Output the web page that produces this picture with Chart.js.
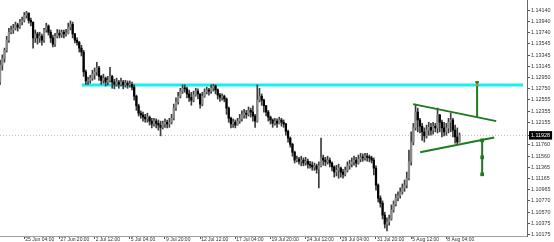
<!DOCTYPE html>
<html>
<head>
<meta charset="utf-8">
<script src="https://cdn.jsdelivr.net/npm/chart.js@4.4.1/dist/chart.umd.min.js"></script>
<style>
  html, body { margin: 0; padding: 0; background: #fff; }
  #wrap { width: 554px; height: 242px; }
  canvas { display: block; }
</style>
</head>
<body>
<div id="wrap"><canvas id="myChart" width="554" height="242"></canvas></div>
<script>
// H4 bars, bar 0 sits on the left edge
const firstOpen = 1.1287;
const closes = [
  1.1317, 1.1329, 1.1343, 1.1361, 1.1375, 1.1379, 1.1382, 1.1388, 1.1384, 1.1393,
  1.1396, 1.1405, 1.1409, 1.1396, 1.1393, 1.1365, 1.1372, 1.1365, 1.1368, 1.1361,
  1.1379, 1.1386, 1.1375, 1.1365, 1.1354, 1.1368, 1.1373, 1.1370, 1.1375, 1.1372,
  1.1373, 1.1384, 1.1389, 1.1372, 1.1361, 1.1357, 1.1347, 1.1340, 1.1305, 1.1289,
  1.1290, 1.1294, 1.1301, 1.1305, 1.1312, 1.1297, 1.1290, 1.1294, 1.1287, 1.1290,
  1.1297, 1.1287, 1.1283, 1.1287, 1.1283, 1.1287, 1.1282, 1.1285, 1.1282, 1.1283,
  1.1278, 1.1262, 1.1245, 1.1232, 1.1229, 1.1225, 1.1222, 1.1225, 1.1218, 1.1213,
  1.1218, 1.1214, 1.1211, 1.1207, 1.1213, 1.1216, 1.1213, 1.1216, 1.1223, 1.1241,
  1.1252, 1.1262, 1.1271, 1.1276, 1.1275, 1.1266, 1.1260, 1.1255, 1.1264, 1.1271,
  1.1266, 1.1248, 1.1262, 1.1269, 1.1273, 1.1271, 1.1276, 1.1280, 1.1273, 1.1264,
  1.1260, 1.1262, 1.1257, 1.1241, 1.1223, 1.1213, 1.1216, 1.1211, 1.1218, 1.1222,
  1.1229, 1.1232, 1.1230, 1.1237, 1.1234, 1.1227, 1.1218, 1.1255, 1.1262, 1.1255,
  1.1245, 1.1234, 1.1225, 1.1220, 1.1214, 1.1218, 1.1214, 1.1220, 1.1216, 1.1213,
  1.1200, 1.1188, 1.1177, 1.1163, 1.1149, 1.1151, 1.1147, 1.1149, 1.1144, 1.1147,
  1.1142, 1.1140, 1.1137, 1.1139, 1.1133, 1.1139, 1.1153, 1.1149, 1.1146, 1.1149,
  1.1144, 1.1137, 1.1128, 1.1131, 1.1135, 1.1128, 1.1124, 1.1131, 1.1139, 1.1142,
  1.1146, 1.1149, 1.1144, 1.1151, 1.1154, 1.1153, 1.1156, 1.1154, 1.1153, 1.1149,
  1.1135, 1.1105, 1.1082, 1.1073, 1.1052, 1.1036, 1.1040, 1.1045, 1.1061, 1.1071,
  1.1082, 1.1086, 1.1093, 1.1100, 1.1105, 1.1117, 1.1146, 1.1181, 1.1206, 1.1234,
  1.1220, 1.1209, 1.1199, 1.1192, 1.1202, 1.1207, 1.1202, 1.1209, 1.1206, 1.1229,
  1.1216, 1.1206, 1.1199, 1.1206, 1.1216, 1.1220, 1.1202, 1.1190, 1.1181, 1.1193
];
const highs = [
  1.1326, 1.1335, 1.1347, 1.1368, 1.1382, 1.1386, 1.1389, 1.1393, 1.1391, 1.1398,
  1.1402, 1.1410, 1.1412, 1.1407, 1.1400, 1.1393, 1.1379, 1.1375, 1.1375, 1.1372,
  1.1382, 1.1391, 1.1388, 1.1379, 1.1370, 1.1373, 1.1380, 1.1379, 1.1379, 1.1379,
  1.1380, 1.1391, 1.1395, 1.1393, 1.1373, 1.1365, 1.1359, 1.1352, 1.1343, 1.1308,
  1.1296, 1.1299, 1.1308, 1.1312, 1.1322, 1.1315, 1.1299, 1.1301, 1.1296, 1.1297,
  1.1313, 1.1299, 1.1292, 1.1294, 1.1290, 1.1294, 1.1290, 1.1290, 1.1289, 1.1289,
  1.1287, 1.1282, 1.1264, 1.1248, 1.1236, 1.1234, 1.1230, 1.1232, 1.1227, 1.1223,
  1.1223, 1.1222, 1.1220, 1.1218, 1.1218, 1.1222, 1.1220, 1.1223, 1.1230, 1.1248,
  1.1259, 1.1269, 1.1276, 1.1282, 1.1282, 1.1278, 1.1273, 1.1269, 1.1271, 1.1276,
  1.1275, 1.1266, 1.1269, 1.1275, 1.1278, 1.1276, 1.1282, 1.1283, 1.1282, 1.1275,
  1.1267, 1.1266, 1.1264, 1.1259, 1.1243, 1.1225, 1.1222, 1.1220, 1.1223, 1.1230,
  1.1236, 1.1239, 1.1237, 1.1243, 1.1241, 1.1245, 1.1230, 1.1282, 1.1276, 1.1266,
  1.1257, 1.1246, 1.1237, 1.1227, 1.1222, 1.1223, 1.1222, 1.1225, 1.1223, 1.1220,
  1.1214, 1.1202, 1.1190, 1.1179, 1.1165, 1.1156, 1.1154, 1.1156, 1.1153, 1.1154,
  1.1151, 1.1147, 1.1146, 1.1144, 1.1142, 1.1146, 1.1188, 1.1158, 1.1154, 1.1156,
  1.1153, 1.1146, 1.1139, 1.1140, 1.1142, 1.1137, 1.1133, 1.1137, 1.1146, 1.1149,
  1.1153, 1.1156, 1.1154, 1.1158, 1.1161, 1.1160, 1.1161, 1.1161, 1.1158, 1.1156,
  1.1153, 1.1139, 1.1107, 1.1086, 1.1077, 1.1057, 1.1047, 1.1052, 1.1070, 1.1077,
  1.1089, 1.1093, 1.1100, 1.1107, 1.1114, 1.1128, 1.1167, 1.1199, 1.1214, 1.1248,
  1.1241, 1.1223, 1.1214, 1.1206, 1.1211, 1.1216, 1.1214, 1.1216, 1.1214, 1.1241,
  1.1230, 1.1220, 1.1216, 1.1214, 1.1223, 1.1232, 1.1223, 1.1211, 1.1206, 1.1197
];
const lows = [
  1.1283, 1.1308, 1.1322, 1.1340, 1.1357, 1.1372, 1.1373, 1.1379, 1.1377, 1.1382,
  1.1388, 1.1393, 1.1400, 1.1391, 1.1386, 1.1347, 1.1357, 1.1354, 1.1357, 1.1352,
  1.1357, 1.1375, 1.1370, 1.1357, 1.1349, 1.1350, 1.1365, 1.1365, 1.1366, 1.1365,
  1.1368, 1.1372, 1.1379, 1.1365, 1.1356, 1.1352, 1.1340, 1.1333, 1.1297, 1.1283,
  1.1283, 1.1285, 1.1290, 1.1292, 1.1299, 1.1290, 1.1283, 1.1285, 1.1280, 1.1282,
  1.1287, 1.1276, 1.1275, 1.1280, 1.1276, 1.1280, 1.1275, 1.1278, 1.1276, 1.1278,
  1.1273, 1.1255, 1.1237, 1.1227, 1.1223, 1.1218, 1.1216, 1.1216, 1.1211, 1.1206,
  1.1209, 1.1206, 1.1202, 1.1192, 1.1204, 1.1207, 1.1206, 1.1207, 1.1213, 1.1220,
  1.1237, 1.1248, 1.1259, 1.1267, 1.1269, 1.1259, 1.1253, 1.1246, 1.1252, 1.1262,
  1.1257, 1.1241, 1.1245, 1.1260, 1.1266, 1.1264, 1.1267, 1.1271, 1.1266, 1.1257,
  1.1253, 1.1255, 1.1252, 1.1230, 1.1216, 1.1206, 1.1207, 1.1206, 1.1211, 1.1214,
  1.1218, 1.1223, 1.1223, 1.1227, 1.1225, 1.1218, 1.1207, 1.1216, 1.1252, 1.1246,
  1.1234, 1.1227, 1.1218, 1.1213, 1.1207, 1.1211, 1.1207, 1.1213, 1.1209, 1.1207,
  1.1193, 1.1181, 1.1172, 1.1156, 1.1144, 1.1146, 1.1142, 1.1139, 1.1139, 1.1140,
  1.1135, 1.1135, 1.1131, 1.1131, 1.1126, 1.1100, 1.1137, 1.1140, 1.1139, 1.1142,
  1.1137, 1.1130, 1.1119, 1.1121, 1.1117, 1.1119, 1.1117, 1.1121, 1.1128, 1.1133,
  1.1137, 1.1140, 1.1137, 1.1142, 1.1146, 1.1147, 1.1149, 1.1147, 1.1146, 1.1144,
  1.1123, 1.1096, 1.1075, 1.1066, 1.1045, 1.1029, 1.1024, 1.1034, 1.1043, 1.1057,
  1.1068, 1.1077, 1.1082, 1.1089, 1.1094, 1.1100, 1.1114, 1.1140, 1.1176, 1.1202,
  1.1199, 1.1197, 1.1184, 1.1181, 1.1188, 1.1193, 1.1193, 1.1195, 1.1199, 1.1197,
  1.1199, 1.1190, 1.1192, 1.1193, 1.1197, 1.1199, 1.1190, 1.1179, 1.1176, 1.1184
];

// time axis labels and the bar each one sits on
const dateLabels = ["25 Jun 04:00", "27 Jun 20:00", "2 Jul 12:00", "5 Jul 04:00", "9 Jul 20:00",
  "12 Jul 12:00", "17 Jul 04:00", "19 Jul 20:00", "24 Jul 12:00", "29 Jul 04:00",
  "31 Jul 20:00", "5 Aug 12:00", "8 Aug 04:00"];
const dateBars = [11, 27, 43, 59, 75, 91, 107, 123, 139, 155, 171, 187, 203];

// price axis labels
const priceLabels = ["1.14140", "1.13940", "1.13740", "1.13545", "1.13345", "1.13145", "1.12950",
  "1.12750", "1.12555", "1.12355", "1.12155", "1.11760", "1.11560", "1.11365", "1.11165",
  "1.10965", "1.10770", "1.10570", "1.10375", "1.10175"];
const bidPrice = 1.11928;

// drawn objects: [bar, price]
const resistance = [[37.2, 1.1282], [237.9, 1.1282]];
const upperTrend = [[187.9, 1.1248], [225.7, 1.1218]];
const lowerTrend = [[191.1, 1.1163], [224.8, 1.1189]];
const targetUp = [[217.0, 1.1225], [217.0, 1.1287]];
const targetDown = [[219.3, 1.1184], [219.3, 1.1154], [219.3, 1.1124]];

const xMin = -0.05;
const xMax = 239.7;
const green = "#1f7a1f";

const opens = closes.map((c, i) => (i === 0 ? firstOpen : closes[i - 1]));
const bodies = closes.map((c, i) => ({ x: i, y: [opens[i], c] }));
const wicks = closes.map((c, i) => ({
    x: i,
    y: [Math.min(lows[i], opens[i], c), Math.max(highs[i], opens[i], c)],
}));
const toPoints = (arr) => arr.map((p) => ({ x: p[0], y: p[1] }));

const yTicks = priceLabels.map((t) => ({ value: parseFloat(t), label: t }));
yTicks.push({ value: bidPrice, label: bidPrice.toFixed(5) });
const bidIndex = yTicks.length - 1;

// no padding from tick labels, the plot runs to the canvas edges
const noPadding = (s) => {
    s.paddingLeft = 0;
    s.paddingRight = 0;
    s.paddingTop = 0;
    s.paddingBottom = 0;
    if (s._margins) {
        s._margins.left = 0;
        s._margins.right = 0;
        s._margins.top = 0;
        s._margins.bottom = 0;
    }
};

const datasets = [
    {
        type: "line",
        data: [{ x: xMin, y: bidPrice }, { x: xMax, y: bidPrice }],
        borderColor: "#b8b8b8",
        borderWidth: 1,
        borderDash: [1, 2],
        pointRadius: 0,
        order: 6,
    },
    {
        type: "line",
        data: toPoints(resistance),
        borderColor: "#14f0f0",
        borderWidth: 3,
        pointRadius: 0,
        order: 5,
    },
    {
        type: "bar",
        data: wicks,
        backgroundColor: "#3c3c3c",
        barThickness: 1,
        grouped: false,
        order: 4,
    },
    {
        type: "bar",
        data: bodies,
        backgroundColor: (ctx) => (closes[ctx.dataIndex] >= opens[ctx.dataIndex] ? "#8a8a8a" : "#000"),
        barThickness: 1.6,
        minBarLength: 1,
        grouped: false,
        order: 3,
    },
    {
        type: "line",
        data: toPoints(upperTrend),
        borderColor: green,
        borderWidth: 2,
        pointRadius: 0,
        order: 1,
    },
    {
        type: "line",
        data: toPoints(lowerTrend),
        borderColor: green,
        borderWidth: 2,
        pointRadius: 0,
        order: 1,
    },
    {
        type: "line",
        data: toPoints(targetUp),
        borderColor: green,
        borderWidth: 2,
        pointRadius: [0, 1.8],
        pointStyle: "line",
        pointBorderColor: green,
        pointBorderWidth: 2,
        order: 1,
    },
    {
        type: "line",
        data: [{ x: targetUp[1][0], y: resistance[0][1] }],
        pointStyle: "rect",
        pointRadius: 1.8,
        pointBackgroundColor: "#e0782a",
        pointBorderWidth: 0,
        showLine: false,
        order: 0,
    },
    {
        type: "line",
        data: toPoints(targetDown),
        borderColor: green,
        borderWidth: 2,
        pointStyle: "rect",
        pointRadius: 2.6,
        pointBackgroundColor: green,
        pointBorderWidth: 0,
        order: 1,
    },
];

const config = {
    type: "bar",
    data: { datasets },
    options: {
        responsive: false,
        animation: false,
        events: [],
        layout: { padding: 0, autoPadding: false },
        plugins: { legend: { display: false }, tooltip: { enabled: false } },
        scales: {
            x: {
                type: "linear",
                position: "bottom",
                min: xMin,
                max: xMax,
                offset: false,
                grid: { display: true, drawOnChartArea: false, offset: false, tickLength: 3, tickColor: "#555" },
                border: { display: true, color: "#a0a0a0", dash: [1, 1] },
                ticks: {
                    autoSkip: false,
                    maxRotation: 0,
                    align: "start",
                    labelOffset: 1,
                    padding: -2,
                    color: "#333",
                    font: { family: "Liberation Sans", size: 5 },
                    callback: (v, i) => dateLabels[i],
                },
                afterBuildTicks: (s) => {
                    s.ticks = dateBars.map((b) => ({ value: b }));
                },
                afterFit: (s) => {
                    s.height = 6;
                    noPadding(s);
                },
            },
            y: {
                type: "linear",
                position: "right",
                min: 1.1015,
                max: 1.1432,
                beginAtZero: false,
                grid: { display: true, drawOnChartArea: false, tickLength: 3, tickColor: "#555" },
                border: { display: true, color: "#666" },
                ticks: {
                    autoSkip: false,
                    padding: 1,
                    font: { family: "Liberation Sans", size: 5.4 },
                    color: (ctx) => (ctx.index === bidIndex ? "#fff" : "#333"),
                    showLabelBackdrop: (ctx) => ctx.index === bidIndex,
                    backdropColor: "#000",
                    backdropPadding: { x: 2, y: 1 },
                    callback: (v, i) => yTicks[i].label,
                },
                afterBuildTicks: (s) => {
                    s.ticks = yTicks.map((t) => ({ value: t.value }));
                },
                afterFit: (s) => {
                    s.width = 27;
                    noPadding(s);
                },
            },
        },
    },
};

new Chart(document.querySelector("#myChart"), config);
</script>
</body>
</html>
